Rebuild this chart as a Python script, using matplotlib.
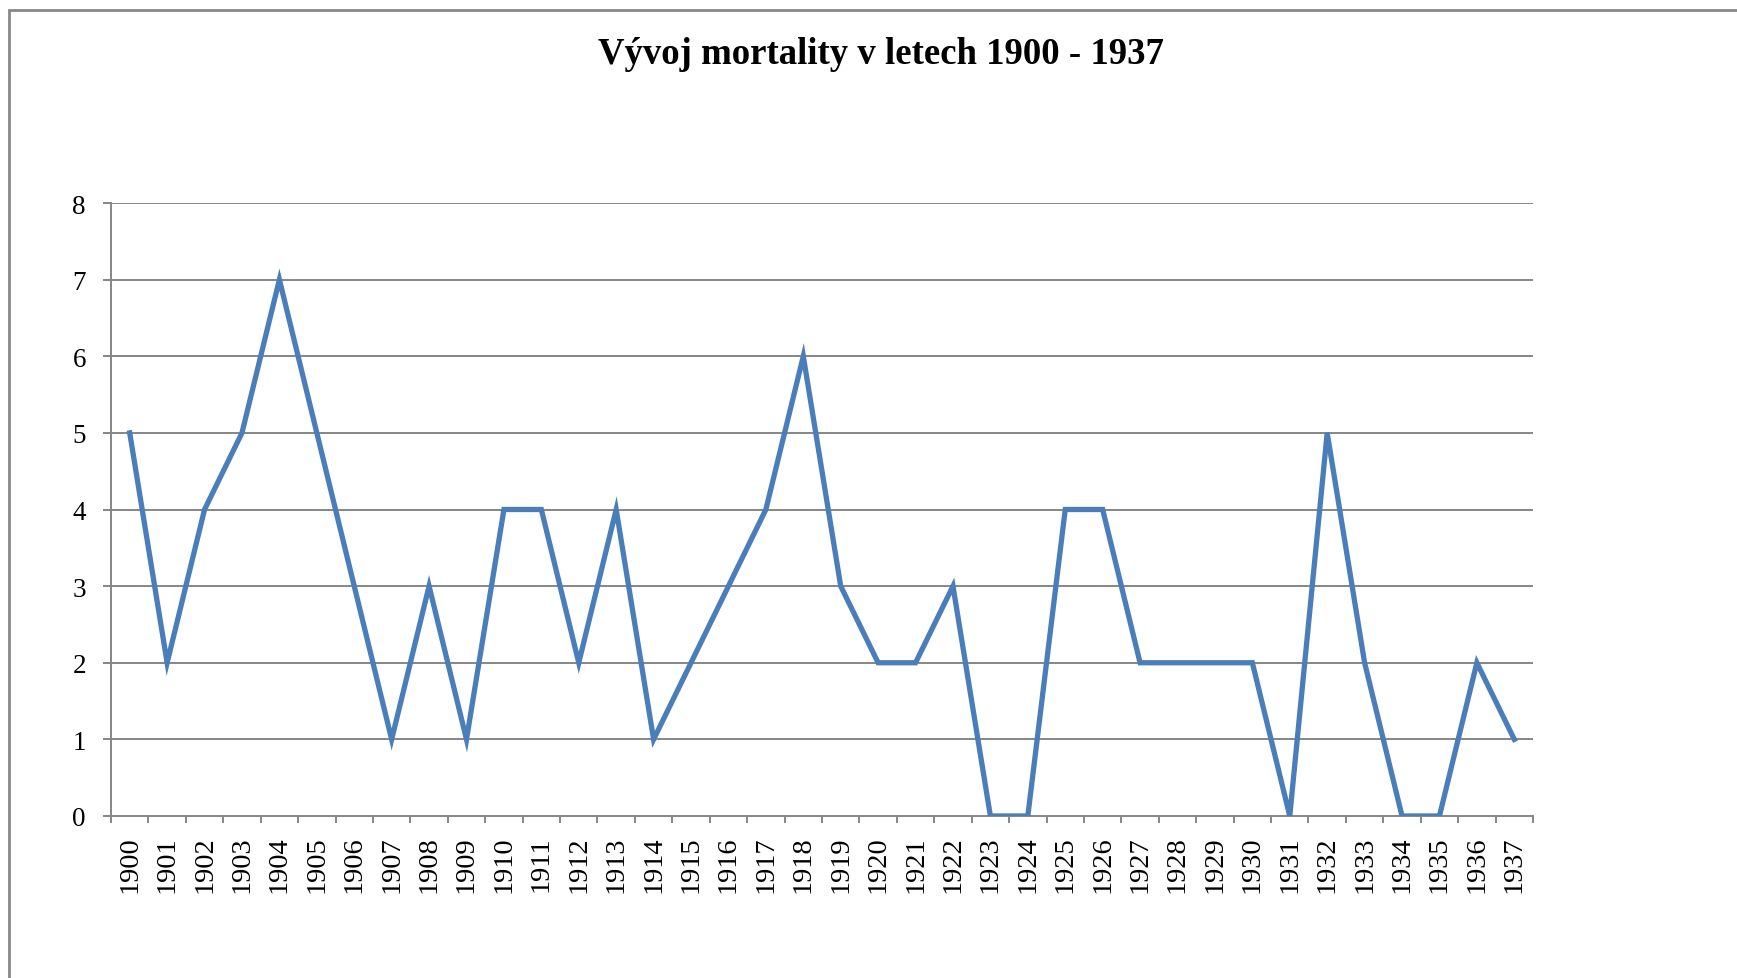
import matplotlib.pyplot as plt
from matplotlib.patches import Rectangle
import numpy as np

years = list(range(1900, 1938))
deaths = [5, 2, 4, 5, 7, 5, 3, 1, 3, 1,
          4, 4, 2, 4, 1, 2, 3, 4, 6, 3,
          2, 2, 3, 0, 0, 4, 4, 2, 2, 2,
          2, 0, 5, 2, 0, 0, 2, 1]
y_ticks = list(range(0, 9))

plt.rcParams['font.family'] = ['Liberation Serif', 'DejaVu Serif']

fig = plt.figure(figsize=(17.37, 9.79), dpi=100)
W, H = 1737, 979
ax = fig.add_axes([111 / W, 1 - 817 / H, (1533 - 111) / W, (817 - 204) / H])

grey = '#868686'
x = np.arange(len(years))

for v in y_ticks[1:]:
    ax.axhline(v, color=grey, lw=1.4, zorder=1)

ax.plot(x, deaths, color='#4A7EBB', lw=3.8, zorder=3, solid_joinstyle='miter')

ax.set_xlim(-0.5, len(years) - 0.5)
ax.set_ylim(0, 8)
ax.set_yticks(y_ticks)
ax.set_yticklabels([str(v) for v in y_ticks], fontsize=19.5)
ax.set_xticks(x)
ax.set_xticklabels([str(y) for y in years], rotation=90, fontsize=20.5)
ax.set_xticks(np.arange(len(years) + 1) - 0.5, minor=True)

ax.tick_params(axis='x', which='major', length=0, pad=14)
ax.tick_params(axis='x', which='minor', length=5, width=1.4, color=grey)
ax.tick_params(axis='y', which='major', length=6, width=1.4, color=grey, pad=12)

for side in ['top', 'right']:
    ax.spines[side].set_visible(False)
for side in ['left', 'bottom']:
    ax.spines[side].set_color(grey)
    ax.spines[side].set_linewidth(1.4)

fig.text(881 / W, 1 - 54 / H, 'Vývoj mortality v letech 1900 - 1937',
         ha='center', va='center', fontsize=26.5, fontweight='bold')

# outer chart border (right and bottom edges fall outside the image)
fig.patches.append(Rectangle((8.5 / W, -0.1), 1.2, 1 - 10.5 / H + 0.1,
                             transform=fig.transFigure, fill=False,
                             edgecolor='#878787', lw=2))

fig.savefig('out.png', dpi=100)
